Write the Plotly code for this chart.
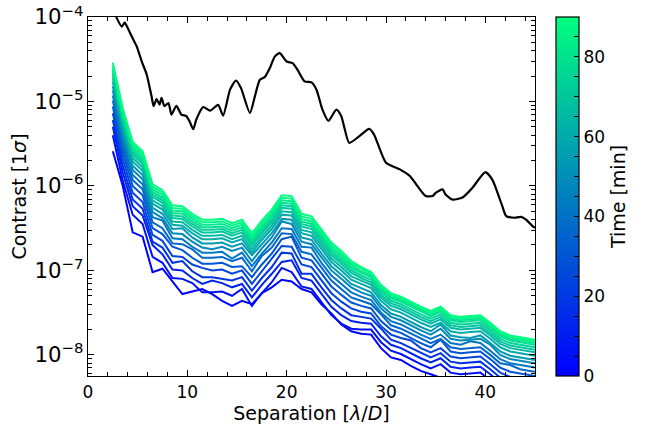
import plotly.graph_objects as go
from plotly.colors import sample_colorscale

# separations [lambda/D] shared by the time series
sep = [2.5, 3.5, 4.5, 5.5, 6.5, 7.5, 8.5, 9.5, 10.5, 11.5, 12.5, 13.5, 14.5, 15.5,
       16.5, 17.5, 18.5, 19.5, 20.5, 21.5, 22.5, 23.5, 24.5, 25.5, 26.5, 27.5,
       28.5, 29.5, 30.5, 31.5, 32.5, 33.5, 34.5, 35.5, 36.5, 37.5, 38.5, 39.5,
       40.5, 41.5, 42.5, 43.5, 44.5, 45.0]

# time of each curve [min]
times = [90, 86, 82, 78, 74, 70, 65, 60, 54, 48, 42, 36, 30, 24, 18, 12, 6, 0]

# log10 of the 1-sigma contrast, one row per time above
log_contrast = [
    [-4.54, -5.08, -5.48, -5.59, -5.98, -6.05, -6.23, -6.24, -6.33, -6.40, -6.40, -6.39, -6.44, -6.40, -6.56, -6.41, -6.28, -6.11, -6.12, -6.33, -6.36, -6.52, -6.67, -6.77, -6.89, -6.96, -7.02, -7.17, -7.27, -7.31, -7.37, -7.43, -7.48, -7.43, -7.53, -7.55, -7.54, -7.53, -7.62, -7.72, -7.77, -7.79, -7.81, -7.82],
    [-4.57, -5.11, -5.51, -5.62, -6.01, -6.08, -6.26, -6.27, -6.36, -6.43, -6.43, -6.42, -6.47, -6.43, -6.59, -6.44, -6.31, -6.14, -6.15, -6.36, -6.39, -6.55, -6.70, -6.80, -6.92, -6.98, -7.04, -7.19, -7.29, -7.33, -7.39, -7.45, -7.50, -7.45, -7.55, -7.57, -7.56, -7.55, -7.64, -7.74, -7.79, -7.81, -7.83, -7.84],
    [-4.60, -5.14, -5.54, -5.65, -6.04, -6.11, -6.29, -6.30, -6.39, -6.46, -6.46, -6.45, -6.50, -6.46, -6.62, -6.47, -6.34, -6.17, -6.18, -6.39, -6.42, -6.58, -6.73, -6.83, -6.94, -7.01, -7.06, -7.21, -7.31, -7.35, -7.41, -7.47, -7.52, -7.47, -7.57, -7.59, -7.58, -7.57, -7.66, -7.76, -7.81, -7.83, -7.85, -7.86],
    [-4.63, -5.17, -5.57, -5.68, -6.07, -6.14, -6.32, -6.33, -6.42, -6.49, -6.49, -6.48, -6.53, -6.49, -6.65, -6.50, -6.37, -6.20, -6.21, -6.42, -6.45, -6.61, -6.76, -6.86, -6.97, -7.03, -7.08, -7.23, -7.33, -7.37, -7.43, -7.49, -7.54, -7.49, -7.59, -7.61, -7.60, -7.59, -7.68, -7.78, -7.83, -7.85, -7.87, -7.88],
    [-4.66, -5.20, -5.60, -5.71, -6.10, -6.17, -6.35, -6.36, -6.45, -6.52, -6.52, -6.51, -6.56, -6.52, -6.68, -6.53, -6.40, -6.23, -6.24, -6.45, -6.48, -6.64, -6.79, -6.89, -7.00, -7.06, -7.11, -7.26, -7.36, -7.40, -7.46, -7.52, -7.57, -7.52, -7.62, -7.64, -7.63, -7.62, -7.71, -7.81, -7.86, -7.88, -7.90, -7.91],
    [-4.69, -5.23, -5.63, -5.74, -6.13, -6.20, -6.38, -6.39, -6.48, -6.55, -6.55, -6.54, -6.59, -6.55, -6.71, -6.56, -6.43, -6.26, -6.27, -6.48, -6.51, -6.67, -6.82, -6.92, -7.03, -7.09, -7.14, -7.29, -7.39, -7.43, -7.49, -7.55, -7.60, -7.55, -7.65, -7.67, -7.66, -7.65, -7.74, -7.84, -7.89, -7.91, -7.93, -7.94],
    [-4.73, -5.27, -5.67, -5.78, -6.17, -6.24, -6.42, -6.43, -6.52, -6.59, -6.59, -6.58, -6.63, -6.59, -6.75, -6.60, -6.47, -6.30, -6.31, -6.52, -6.55, -6.71, -6.86, -6.96, -7.07, -7.12, -7.17, -7.32, -7.42, -7.46, -7.52, -7.58, -7.63, -7.58, -7.68, -7.70, -7.69, -7.68, -7.77, -7.87, -7.92, -7.94, -7.96, -7.97],
    [-4.77, -5.31, -5.71, -5.82, -6.21, -6.28, -6.46, -6.47, -6.56, -6.63, -6.63, -6.62, -6.67, -6.63, -6.79, -6.64, -6.51, -6.34, -6.35, -6.56, -6.59, -6.75, -6.90, -7.00, -7.11, -7.16, -7.21, -7.36, -7.46, -7.50, -7.56, -7.62, -7.67, -7.62, -7.72, -7.74, -7.73, -7.72, -7.81, -7.91, -7.96, -7.98, -8.00, -8.01],
    [-4.82, -5.36, -5.76, -5.87, -6.26, -6.33, -6.51, -6.50, -6.61, -6.68, -6.68, -6.67, -6.72, -6.68, -6.82, -6.69, -6.56, -6.39, -6.40, -6.61, -6.64, -6.80, -6.95, -7.05, -7.16, -7.21, -7.26, -7.41, -7.51, -7.55, -7.61, -7.67, -7.72, -7.64, -7.77, -7.79, -7.80, -7.77, -7.86, -7.96, -8.01, -8.03, -8.05, -8.06],
    [-4.87, -5.41, -5.81, -5.92, -6.31, -6.38, -6.56, -6.57, -6.66, -6.73, -6.75, -6.72, -6.77, -6.73, -6.89, -6.74, -6.61, -6.42, -6.45, -6.66, -6.69, -6.85, -7.00, -7.10, -7.20, -7.26, -7.30, -7.45, -7.55, -7.59, -7.65, -7.71, -7.76, -7.69, -7.81, -7.83, -7.82, -7.81, -7.88, -8.00, -8.05, -8.07, -8.09, -8.10],
    [-4.93, -5.47, -5.87, -5.98, -6.37, -6.41, -6.62, -6.63, -6.72, -6.79, -6.79, -6.78, -6.86, -6.79, -6.95, -6.80, -6.67, -6.50, -6.51, -6.72, -6.73, -6.91, -7.06, -7.16, -7.26, -7.31, -7.35, -7.50, -7.60, -7.64, -7.70, -7.76, -7.81, -7.76, -7.86, -7.88, -7.84, -7.86, -7.95, -8.05, -8.10, -8.12, -8.14, -8.15],
    [-4.99, -5.53, -5.93, -6.04, -6.43, -6.50, -6.68, -6.69, -6.75, -6.85, -6.85, -6.84, -6.89, -6.85, -7.01, -6.83, -6.73, -6.56, -6.57, -6.78, -6.81, -6.97, -7.12, -7.22, -7.32, -7.36, -7.40, -7.52, -7.65, -7.69, -7.75, -7.81, -7.86, -7.81, -7.91, -7.93, -7.92, -7.91, -8.00, -8.10, -8.12, -8.17, -8.19, -8.20],
    [-5.06, -5.60, -6.00, -6.11, -6.50, -6.57, -6.72, -6.76, -6.85, -6.92, -6.92, -6.91, -6.96, -6.95, -7.08, -6.93, -6.80, -6.63, -6.60, -6.85, -6.88, -7.04, -7.19, -7.29, -7.38, -7.42, -7.45, -7.60, -7.70, -7.74, -7.80, -7.86, -7.91, -7.82, -7.96, -7.98, -7.97, -7.96, -8.05, -8.15, -8.20, -8.22, -8.24, -8.25],
    [-5.14, -5.68, -6.08, -6.19, -6.58, -6.65, -6.83, -6.84, -6.93, -6.97, -7.00, -6.99, -7.04, -7.00, -7.16, -7.01, -6.85, -6.71, -6.72, -6.93, -6.96, -7.12, -7.27, -7.37, -7.45, -7.49, -7.51, -7.66, -7.76, -7.80, -7.83, -7.92, -7.97, -7.92, -8.02, -8.04, -8.03, -8.02, -8.11, -8.21, -8.26, -8.28, -8.30, -8.31],
    [-5.22, -5.76, -6.16, -6.27, -6.66, -6.73, -6.91, -6.89, -7.01, -7.08, -7.08, -7.10, -7.12, -7.08, -7.24, -7.09, -6.96, -6.79, -6.80, -7.04, -7.04, -7.20, -7.35, -7.45, -7.53, -7.55, -7.57, -7.69, -7.82, -7.86, -7.92, -7.98, -8.03, -7.98, -8.08, -8.10, -8.09, -8.08, -8.17, -8.27, -8.32, -8.34, -8.36, -8.37],
    [-5.30, -5.84, -6.24, -6.35, -6.70, -6.81, -6.99, -7.00, -7.09, -7.16, -7.12, -7.15, -7.20, -7.16, -7.32, -7.17, -7.04, -6.90, -6.88, -7.09, -7.12, -7.28, -7.43, -7.53, -7.60, -7.62, -7.63, -7.78, -7.88, -7.92, -7.98, -8.04, -8.09, -8.04, -8.14, -8.16, -8.15, -8.14, -8.23, -8.33, -8.38, -8.40, -8.42, -8.43],
    [-5.40, -5.94, -6.34, -6.45, -6.84, -6.91, -7.09, -7.10, -7.15, -7.26, -7.26, -7.25, -7.30, -7.22, -7.42, -7.27, -7.14, -6.97, -7.02, -7.19, -7.22, -7.38, -7.53, -7.63, -7.69, -7.70, -7.70, -7.85, -7.95, -7.99, -8.05, -8.11, -8.16, -8.11, -8.21, -8.23, -8.22, -8.21, -8.30, -8.40, -8.45, -8.47, -8.49, -8.50],
    [-5.59, -6.00, -6.55, -6.60, -7.02, -6.98, -7.13, -7.28, -7.25, -7.22, -7.28, -7.36, -7.42, -7.36, -7.40, -7.27, -7.20, -7.11, -7.13, -7.22, -7.26, -7.40, -7.51, -7.64, -7.72, -7.75, -7.76, -7.92, -8.03, -8.06, -8.13, -8.19, -8.23, -8.27, -8.33, -8.36, -8.38, -8.40, -8.45, -8.50, -8.53, -8.55, -8.57, -8.58],
]

# reference (black) curve
black_sep = [2.5, 2.9, 3.4, 3.7, 4.0, 4.4, 4.9, 5.4, 5.9, 6.4, 6.6, 6.9, 7.2, 7.4, 7.7, 8.1,
             8.4, 8.9, 9.4, 9.9, 10.25, 10.6, 10.9, 11.6, 12.3, 13.1, 13.6, 14.3, 14.9,
             15.4, 16.3, 16.8, 17.3, 17.8, 18.3, 18.8, 19.3, 20.0, 20.6, 21.1, 21.8, 22.5,
             23.0, 23.6, 24.2, 25.0, 25.5, 26.3, 27.3, 28.3, 28.8, 30.0, 31.4, 32.4, 34.0,
             34.7, 35.0, 35.7, 36.0, 36.7, 37.7, 38.7, 40.0, 40.7, 41.7, 42.1, 42.9, 43.6,
             44.1, 44.8, 45.0]
black_contrast = [1.3e-4, 9.7e-5, 7.7e-5, 8.6e-5, 7.4e-5, 5.9e-5, 4.5e-5, 3.0e-5, 2.1e-5,
                  1.15e-5, 8.8e-6, 1.07e-5, 9.2e-6, 1.10e-5, 8.8e-6, 9.6e-6, 7.0e-6, 8.9e-6,
                  7.0e-6, 6.7e-6, 5.7e-6, 4.7e-6, 6.1e-6, 8.6e-6, 7.8e-6, 9.1e-6, 6.8e-6,
                  1.38e-5, 1.77e-5, 1.44e-5, 7.3e-6, 1.15e-5, 1.81e-5, 1.95e-5, 2.48e-5,
                  3.4e-5, 3.73e-5, 2.97e-5, 2.85e-5, 2.37e-5, 1.73e-5, 1.68e-5, 1.38e-5,
                  8.0e-6, 5.9e-6, 8.0e-6, 6.7e-6, 3.24e-6, 3.87e-6, 4.73e-6, 4.05e-6,
                  1.88e-6, 1.57e-6, 1.31e-6, 7.6e-7, 7.6e-7, 8.3e-7, 9.1e-7, 7.9e-7, 6.9e-7,
                  7.3e-7, 9.5e-7, 1.46e-6, 1.19e-6, 5.8e-7, 4.4e-7, 4.2e-7, 4.3e-7, 4.0e-7,
                  3.3e-7, 3.2e-7]

winter = [[0, 'rgb(0,0,255)'], [1, 'rgb(0,255,128)']]
FONT = 'DejaVu Sans'

fig = go.Figure()

# earliest first so the late (green) curves sit on top
for t, row in reversed(list(zip(times, log_contrast))):
    color = sample_colorscale(winter, [t / 90])[0]
    fig.add_trace(go.Scatter(
        x=sep, y=[10 ** v for v in row], mode='lines',
        line=dict(color=color, width=2), showlegend=False, hoverinfo='skip'))

fig.add_trace(go.Scatter(
    x=black_sep, y=black_contrast, mode='lines',
    line=dict(color='black', width=2.2, shape='spline', smoothing=0.6),
    showlegend=False))

# colorbar only
fig.add_trace(go.Scatter(
    x=[None], y=[None], mode='markers', showlegend=False,
    marker=dict(color=[0], colorscale=winter, cmin=0, cmax=90, showscale=True,
                colorbar=dict(
                    title=dict(text='Time [min]', side='right',
                               font=dict(size=19, family=FONT, color='black')),
                    tick0=0, dtick=5, ticklabelstep=4,
                    ticks='inside', ticklen=5, tickcolor='black',
                    tickfont=dict(size=17, family=FONT, color='black'),
                    outlinewidth=1.2, outlinecolor='black',
                    thickness=23, len=1, lenmode='fraction',
                    x=1.047, xanchor='left', xpad=0, y=0.5, yanchor='middle', ypad=0))))

axis_common = dict(
    showgrid=False, zeroline=False, showline=True, linecolor='black', linewidth=1.3,
    mirror='ticks', ticks='inside', ticklen=6, tickwidth=1.2, tickcolor='black',
    tickfont=dict(size=17, family=FONT, color='black'), automargin=False,
    ticklabeloverflow='allow',
)

fig.update_xaxes(
    range=[0, 45], tick0=0, dtick=10,
    minor=dict(dtick=2, ticks='inside', ticklen=3.5, tickwidth=1, tickcolor='black'),
    title=dict(text='Separation [<i>λ</i>/<i>D</i>]', font=dict(size=19, family=FONT, color='black'),
               standoff=4),
    **axis_common)

fig.update_yaxes(
    type='log', range=[-8.25, -4], dtick=1, exponentformat='power',
    minor=dict(dtick='D1', ticks='inside', ticklen=3.5, tickwidth=1, tickcolor='black'),
    title=dict(text='Contrast [1<i>σ</i>]', font=dict(size=19, family=FONT, color='black'),
               standoff=2),
    **axis_common)

fig.update_layout(
    width=648, height=438,
    margin=dict(l=88, r=113, t=17, b=62, autoexpand=False),
    plot_bgcolor='white', paper_bgcolor='white',
    font=dict(family=FONT, color='black'),
)

# drop the default page margin so the figure sits at the window corner
fig.write_html("out.html", config={'displayModeBar': False},
               post_script="document.body.style.margin = '0';")
